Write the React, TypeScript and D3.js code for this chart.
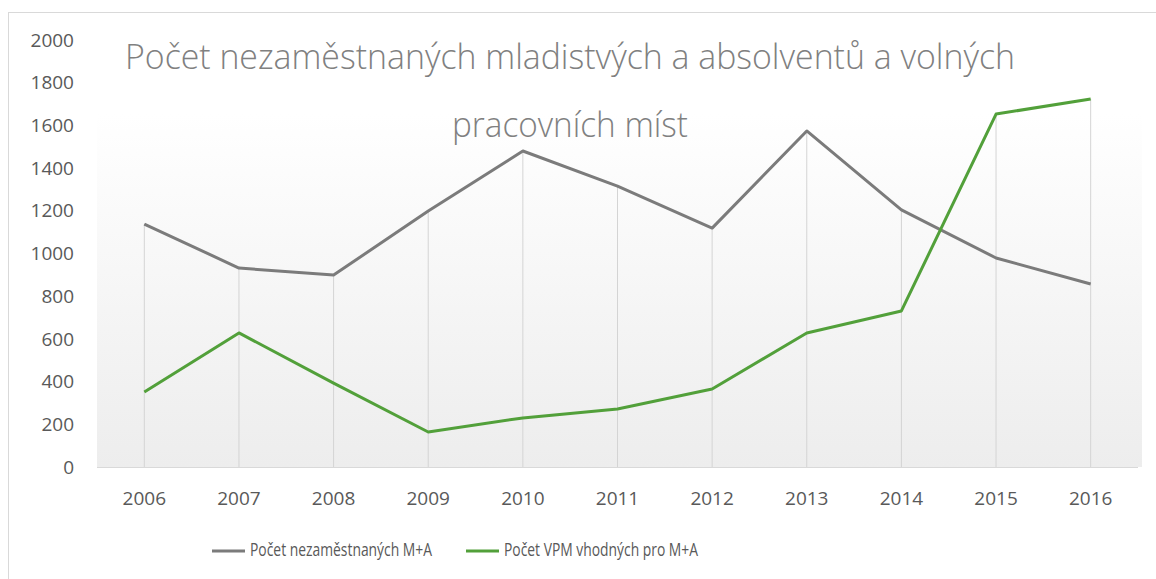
import React from "react";
import * as d3 from "d3";

const years = ["2006", "2007", "2008", "2009", "2010", "2011", "2012", "2013", "2014", "2015", "2016"];
const unemployed = [1138, 932, 899, 1199, 1480, 1316, 1119, 1574, 1204, 979, 857];
const vacancies = [351, 628, 393, 164, 230, 272, 365, 628, 731, 1653, 1724];
const yTicks = [0, 200, 400, 600, 800, 1000, 1200, 1400, 1600, 1800, 2000];
const titleLines = ["Počet nezaměstnaných mladistvých a absolventů a volných", "pracovních míst"];
const seriesNames = ["Počet nezaměstnaných M+A", "Počet VPM vhodných pro M+A"];

const W = 1156;
const H = 579;
const margin = { top: 40, right: 18, bottom: 112, left: 97 };

const grayColor = "#7b7b7b";
const greenColor = "#52a03a";
const textColor = "#595959";
const font = "'Open Sans', 'DejaVu Sans', sans-serif";
const narrowFont = "'Liberation Sans Narrow', 'Open Sans', sans-serif";

// title layout (approximate widths)
const titleBox = [
  { x: 125, y: 69, len: 890 },
  { x: 452, y: 137, len: 236 },
];
const legendBox = [
  { x: 212, len: 182 },
  { x: 466, len: 194 },
];

export default function App() {
  const x = d3
    .scaleBand()
    .domain(years)
    .range([margin.left, W - margin.right]);
  const y = d3
    .scaleLinear()
    .domain([0, 2000])
    .range([H - margin.bottom, margin.top]);

  const cx = (d: string) => (x(d) ?? 0) + x.bandwidth() / 2;

  const line = d3
    .line<number>()
    .x((_, i) => cx(years[i]))
    .y((d) => y(d));

  const bgTop = 113;
  const bottom = y(0);

  return (
    <svg
      width={W}
      height={H}
      style={{ position: "absolute", left: 0, top: 0, background: "#fff" }}
    >
      <defs>
        <linearGradient id="plotbg" x1="0" y1="0" x2="0" y2="1">
          <stop offset="0" stopColor="#ffffff" />
          <stop offset="1" stopColor="#ededed" />
        </linearGradient>
      </defs>

      {/* frame */}
      <line x1={8.5} x2={8.5} y1={12} y2={H} stroke="#d9d9d9" />
      <line x1={8} x2={W} y1={12.5} y2={12.5} stroke="#d9d9d9" />

      {/* plot background */}
      <rect
        x={margin.left}
        y={bgTop}
        width={W - margin.right - margin.left + 4}
        height={bottom - bgTop}
        fill="url(#plotbg)"
      />

      {/* drop lines */}
      {years.map((yr, i) => (
        <line
          key={yr}
          x1={cx(yr)}
          x2={cx(yr)}
          y1={y(Math.max(unemployed[i], vacancies[i]))}
          y2={bottom}
          stroke="#d4d4d4"
          strokeWidth={1}
        />
      ))}

      {/* axis baseline */}
      <line
        x1={margin.left}
        x2={W - margin.right}
        y1={bottom + 0.5}
        y2={bottom + 0.5}
        stroke="#d9d9d9"
      />

      {/* y tick labels */}
      {yTicks.map((t) => (
        <text
          key={t}
          x={74}
          y={y(t)}
          dy="0.35em"
          textAnchor="end"
          fontFamily={font}
          fontSize={19}
          fill={textColor}
        >
          {t}
        </text>
      ))}

      {/* x tick labels */}
      {years.map((yr) => (
        <text
          key={yr}
          x={cx(yr)}
          y={505}
          textAnchor="middle"
          fontFamily={font}
          fontSize={19}
          fill={textColor}
        >
          {yr}
        </text>
      ))}

      {/* series */}
      <path d={line(unemployed) ?? ""} fill="none" stroke={grayColor} strokeWidth={3} strokeLinejoin="round" />
      <path d={line(vacancies) ?? ""} fill="none" stroke={greenColor} strokeWidth={3} strokeLinejoin="round" />

      {/* title */}
      {titleLines.map((t, i) => (
        <text
          key={i}
          x={titleBox[i].x}
          y={titleBox[i].y}
          textLength={titleBox[i].len}
          lengthAdjust="spacingAndGlyphs"
          fontFamily="'Open Sans', sans-serif"
          fontWeight={300}
          fontSize={34}
          fill="#808080"
        >
          {t}
        </text>
      ))}

      {/* legend */}
      {seriesNames.map((name, i) => {
        const lx = legendBox[i].x;
        const c = i === 0 ? grayColor : greenColor;
        return (
          <g key={name}>
            <line x1={lx} x2={lx + 33} y1={551} y2={551} stroke={c} strokeWidth={3} />
            <text
              x={lx + 38}
              y={556}
              textLength={legendBox[i].len}
              lengthAdjust="spacingAndGlyphs"
              fontFamily={narrowFont}
              fontSize={19}
              fill={textColor}
            >
              {name}
            </text>
          </g>
        );
      })}
    </svg>
  );
}
